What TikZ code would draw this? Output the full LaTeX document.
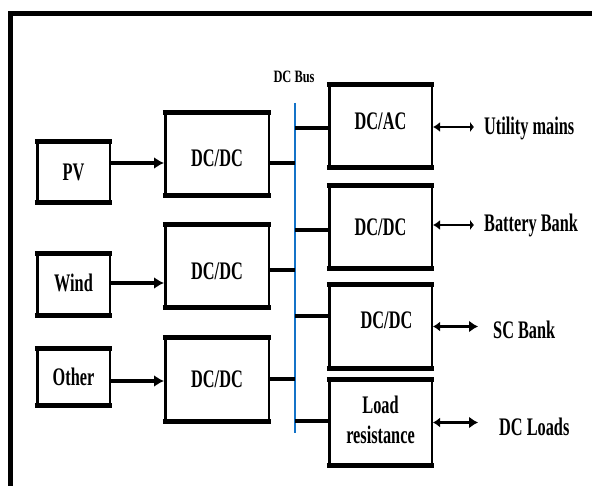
\documentclass[tikz,border=0pt]{standalone}
\usepackage{fontspec}
\setmainfont{Liberation Serif}
\usepackage{graphicx}
\usetikzlibrary{arrows.meta}
\newcommand{\vstr}[1]{\scalebox{1}[1.55]{#1}}
\newcommand{\vmove}[2]{\raisebox{#1}[\height][\depth]{#2}}
\definecolor{busblue}{RGB}{20,115,200}
\tikzset{
  blk/.style={draw, line width=2.5pt, inner sep=0pt,
    font=\bfseries\fontsize{16.3}{19.6}\selectfont,
    append after command={
      (\tikzlastnode.north west) edge[line width=5pt, shorten <=-1.25pt, shorten >=-1.25pt] (\tikzlastnode.north east)
      (\tikzlastnode.south west) edge[line width=5pt, shorten <=-1.25pt, shorten >=-1.25pt] (\tikzlastnode.south east)}},
  src/.style={blk, minimum width=72.5pt},
  conv/.style={blk, minimum width=103.5pt, minimum height=81pt},
  rconv/.style={blk, minimum width=102.5pt},
  lbl/.style={inner sep=0pt, anchor=west, font=\bfseries\fontsize{16.3}{19.6}\selectfont},
  flow/.style={line width=3.5pt, -{Latex[length=10pt,width=12pt]}},
  buslink/.style={line width=4pt},
  bia/.style={line width=2.8pt, {Latex[length=7pt,width=10pt]}-{Latex[length=4pt,width=11pt]}},
  bib/.style={line width=2.8pt, {Latex[length=7pt,width=10pt]}-{Latex[length=9pt,width=12pt]}},
}
\begin{document}
\begin{tikzpicture}[x=1pt,y=-1pt]
\useasboundingbox (0,0) rectangle (592,486);
% frame
\draw[line width=5pt] (592,14) -- (10.5,14) -- (10.5,486);
% sources
\node[src, minimum height=59pt] (pv) at (73.5,172) {\vstr{PV}};
\node[src, minimum height=60pt] (wind) at (73.5,284.5) {\vmove{2pt}{\vstr{Wind}}};
\node[src, minimum height=55pt] (other) at (73.5,377) {\vstr{Other}};
% left converters
\node[conv] (c1) at (217,154) {\vmove{-4pt}{\vstr{DC/DC}}};
\node[conv] (c2) at (217,266) {\vmove{-5pt}{\vstr{DC/DC}}};
\node[conv] (c3) at (217,379.5) {\vstr{DC/DC}};
% right converters
\node[rconv, minimum height=81pt] (dcac) at (380.5,126) {\vmove{5pt}{\vstr{DC/AC}}};
\node[rconv, minimum height=81pt] (r2) at (380.5,227) {\vstr{DC/DC}};
\node[rconv, minimum height=82pt] (r3) at (380.5,326.5) {\vmove{6pt}{\vstr{\hspace{12pt}DC/DC}}};
\node[rconv, minimum height=84pt] (load) at (380.5,422.5)
  {\vstr{\begin{tabular}{@{}c@{}}Load\\resistance\end{tabular}}};
% bus
\coordinate (bustop) at (295,103);
\coordinate (busbot) at (295,433);
\draw[busblue, line width=2pt] (bustop) -- (busbot);
\node[font=\bfseries\fontsize{12.4}{14}\selectfont] (buslbl) at (294,77) {\scalebox{1}[1.4]{DC Bus}};
% source arrows
\draw[flow] ([yshift=9pt]pv.east) -- ([yshift=9pt]pv.east -| c1.west);
\draw[flow] ([yshift=1.5pt]wind.east) -- ([yshift=1.5pt]wind.east -| c2.west);
\draw[flow] ([yshift=-4pt]other.east) -- ([yshift=-4pt]other.east -| c3.west);
% converters to bus
\draw[buslink] ([yshift=-9pt]c1.east) -- ([yshift=-9pt]c1.east -| bustop);
\draw[buslink] ([yshift=-4pt]c2.east) -- ([yshift=-4pt]c2.east -| bustop);
\draw[buslink] (c3.east) -- (c3.east -| bustop);
% bus to right converters
\draw[buslink] ([yshift=-2pt]dcac.west -| bustop) -- ([yshift=-2pt]dcac.west);
\draw[buslink] ([yshift=-3pt]r2.west -| bustop) -- ([yshift=-3pt]r2.west);
\draw[buslink] ([yshift=10.5pt]r3.west -| bustop) -- ([yshift=10.5pt]r3.west);
\draw[buslink] ([yshift=1.5pt]load.west -| bustop) -- ([yshift=1.5pt]load.west);
% outside labels
\node[lbl] (util) at (484,128) {\vstr{Utility mains}};
\node[lbl] (batt) at (484,225) {\vstr{Battery Bank}};
\node[lbl] (sc) at (493,330) {\vstr{SC Bank}};
\node[lbl] (dcl) at (499,427) {\vstr{DC Loads}};
\coordinate (ue) at (474,127);
\coordinate (be) at (474,225);
\coordinate (se) at (478,327);
\coordinate (de) at (478,422);
\draw[bia] ([yshift=-1pt]dcac.east) -- ([yshift=-1pt]dcac.east -| ue);
\draw[bia] ([yshift=2pt]r2.east) -- ([yshift=2pt]r2.east -| be);
\draw[bib] (r3.east) -- (r3.east -| se);
\draw[bib] (load.east) -- (load.east -| de);
\end{tikzpicture}
\end{document}
